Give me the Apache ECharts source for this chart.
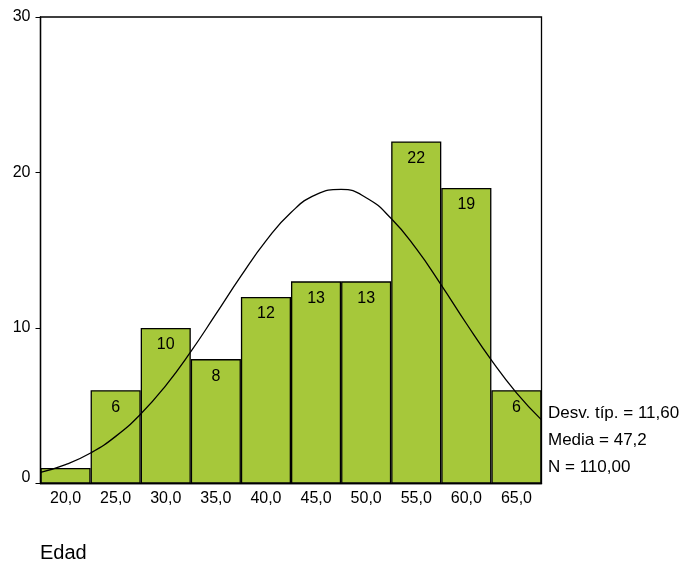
<!DOCTYPE html>
<html><head><meta charset="utf-8">
<script src="https://cdn.jsdelivr.net/npm/echarts@6/dist/echarts.min.js"></script>
<style>html,body{margin:0;padding:0;background:#fff}#c{width:682px;height:567px}</style>
</head><body><div id="c"></div>
<script>
const categories = ['20,0','25,0','30,0','35,0','40,0','45,0','50,0','55,0','60,0','65,0'];
const counts = [1, 6, 10, 8, 12, 13, 13, 22, 19, 6];
const curveX = [17.5,20,22.5,25,27.5,30,32.5,35,37.5,40,42.5,45,47.5,50,52.5,55,57.5,60,62.5,65,67.5];
const curveY = [0.71,1.21,1.96,3.03,4.47,6.30,8.48,10.89,13.33,15.60,17.43,18.58,18.91,18.38,17.04,15.10,12.76,10.29,7.93,5.83,4.09];
const yTicks = [0, 10, 20, 30];
const statsText = ['Desv. típ. = 11,60', 'Media = 47,2', 'N = 110,00'];
const xTitle = 'Edad';

const font = 'Liberation Sans, Arial, sans-serif';
const chart = echarts.init(document.getElementById('c'), null, {renderer:'canvas'});
chart.setOption({
  animation: false,
  backgroundColor: '#fff',
  grid: {left: 40.5, right: 140.5, top: 17, bottom: 83.5, show: true, borderColor: '#000', borderWidth: 1.3, backgroundColor: 'transparent'},
  xAxis: [
    {type: 'category', data: categories, boundaryGap: true,
     axisLine: {lineStyle: {color: '#000', width: 1.3}},
     axisTick: {alignWithLabel: true, length: 6, lineStyle: {color: '#000'}},
     axisLabel: {color: '#000', fontSize: 16, fontFamily: font, margin: 7}},
    {type: 'value', min: 17.5, max: 67.5, show: false}
  ],
  yAxis: {type: 'value', min: yTicks[0], max: yTicks[yTicks.length-1], interval: 10,
    splitLine: {show: false},
    axisLine: {show: true, lineStyle: {color: '#000', width: 1.3}},
    axisTick: {show: true, length: 5, lineStyle: {color: '#000'}},
    axisLabel: {color: '#000', fontSize: 16, fontFamily: font, margin: 10,
      formatter: v => v === 0 ? '{z|0}' : String(v),
      rich: {z: {fontSize: 16, fontFamily: font, color: '#000', padding: [0, 0, 12, 0]}}}},
  graphic: [
    {type: 'text', x: 548, y: 413, style: {text: statsText[0], fill: '#000', font: '17px ' + font, verticalAlign: 'middle'}},
    {type: 'text', x: 548, y: 440, style: {text: statsText[1], fill: '#000', font: '17px ' + font, verticalAlign: 'middle'}},
    {type: 'text', x: 548, y: 467, style: {text: statsText[2], fill: '#000', font: '17px ' + font, verticalAlign: 'middle'}},
    {type: 'text', x: 40, y: 553, style: {text: xTitle, fill: '#000', font: '20px ' + font, verticalAlign: 'middle'}}
  ],
  series: [
    {type: 'bar', xAxisIndex: 0, barWidth: '100%', barGap: '0%',
     data: counts.map((v, i) => ({value: v, label: {show: v > 2}})),
     itemStyle: {color: '#a6c83a', borderColor: '#000', borderWidth: 1.3},
     label: {position: 'insideTop', distance: 9, color: '#000', fontSize: 16, fontFamily: font}},
    {type: 'line', xAxisIndex: 1, data: curveX.map((x, i) => [x, curveY[i]]),
     smooth: true, showSymbol: false, lineStyle: {color: '#000', width: 1.3}, z: 5}
  ]
});
</script></body></html>
